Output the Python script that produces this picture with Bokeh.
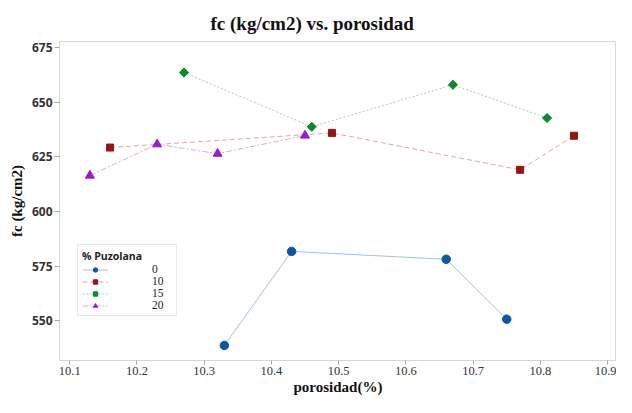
import math
from bokeh.plotting import figure
from bokeh.models import Range1d, Legend, LegendItem, FixedTicker
from bokeh.embed import file_html
from bokeh.resources import INLINE

# ---- data ----
x_0 = [10.33, 10.43, 10.66, 10.75]
y_0 = [538.8, 581.8, 578.2, 550.8]
x_10 = [10.16, 10.49, 10.77, 10.85]
y_10 = [629.3, 636.0, 619.1, 634.7]
x_15 = [10.27, 10.46, 10.67, 10.81]
y_15 = [663.6, 638.8, 658.0, 642.8]
x_20 = [10.13, 10.23, 10.32, 10.45]
y_20 = [616.5, 630.8, 626.5, 634.8]
x_ticks = [10.1, 10.2, 10.3, 10.4, 10.5, 10.6, 10.7, 10.8, 10.9]
y_ticks = [550, 575, 600, 625, 650, 675]
series_labels = ["0", "10", "15", "20"]

p = figure(width=616, height=397, output_backend="svg", toolbar_location=None,
           x_range=Range1d(10.0848, 10.9133), y_range=Range1d(531.9, 677.8),
           title="fc (kg/cm2) vs. porosidad",
           min_border_left=59, min_border_right=0, min_border_top=41, min_border_bottom=36)

p.background_fill_color = "white"
p.border_fill_color = "white"
p.outline_line_color = "#dadada"
p.outline_line_width = 1
p.xgrid.visible = False
p.ygrid.visible = False

p.title.text_font = "Liberation Serif"
p.title.text_font_size = "19px"
p.title.text_font_style = "bold"
p.title.text_color = "#111111"
p.title.align = "left"
p.title.offset = 151
p.title.standoff = 16

# axes
p.xaxis.ticker = FixedTicker(ticks=x_ticks)
p.yaxis.ticker = FixedTicker(ticks=y_ticks)
p.xaxis.minor_tick_line_color = None
p.yaxis.minor_tick_line_color = None
for ax in (p.xaxis[0], p.yaxis[0]):
    ax.axis_line_color = "#d6d6d6"
    ax.major_tick_line_color = "#a8a8a8"
    ax.major_tick_in = 0
    ax.major_tick_out = 5
    ax.axis_label_text_font = "Liberation Serif"
    ax.axis_label_text_font_style = "bold"
    ax.axis_label_text_font_size = "15px"
    ax.axis_label_text_color = "#111111"

p.xaxis.major_tick_out = 4
p.xaxis.axis_label = "porosidad(%)"
p.yaxis.axis_label = "fc (kg/cm2)"
p.xaxis.major_label_text_font = "Liberation Serif"
p.xaxis.major_label_text_font_size = "12.5px"
p.xaxis.major_label_text_color = "#333333"
p.xaxis.major_label_standoff = 2
p.xaxis.axis_label_standoff = 1
p.yaxis.major_label_text_font = "Open Sans"
p.yaxis.major_label_text_font_style = "bold"
p.yaxis.major_label_text_font_size = "12px"
p.yaxis.major_label_text_color = "#333333"
p.yaxis.major_label_standoff = 2
p.yaxis.axis_label_standoff = 4

# series
l0 = p.line(x_0, y_0, line_color="#a9bfe0", line_width=1)
m0 = p.scatter(x_0, y_0, marker="circle", size=8.5, fill_color="#0b57a4", line_color="#0b57a4")
l1 = p.line(x_10, y_10, line_color="#dca8a8", line_width=1, line_dash="5 3")
m1 = p.scatter(x_10, y_10, marker="square", size=7, fill_color="#921616", line_color="#921616")
l2 = p.line(x_15, y_15, line_color="#a3d3a3", line_width=1, line_dash="2 2")
m2 = p.scatter(x_15, y_15, marker="square", size=6.5, angle=math.pi / 4,
               fill_color="#0a8a2c", line_color="#0a8a2c")
l3 = p.line(x_20, y_20, line_color="#d9abea", line_width=1, line_dash="6 2 2 2")
m3 = p.scatter(x_20, y_20, marker="triangle", size=9, fill_color="#9a1bc8", line_color="#9a1bc8")

legend = Legend(items=[
    LegendItem(label=series_labels[0], renderers=[l0, m0]),
    LegendItem(label=series_labels[1], renderers=[l1, m1]),
    LegendItem(label=series_labels[2], renderers=[l2, m2]),
    LegendItem(label=series_labels[3], renderers=[l3, m3]),
], location=(18, 44))
legend.title = "% Puzolana"
legend.title_text_font = "Open Sans"
legend.title_text_font_style = "bold"
legend.title_text_font_size = "10.5px"
legend.title_text_color = "#222222"
legend.title_standoff = 0
legend.label_text_font = "Liberation Serif"
legend.label_text_font_size = "11.5px"
legend.label_text_color = "#222222"
legend.label_height = 11
legend.glyph_height = 11
legend.glyph_width = 26
legend.label_standoff = 44
legend.spacing = 0
legend.padding = 4
legend.margin = 0
legend.border_line_color = "#d6d6d6"
legend.background_fill_color = "white"
p.add_layout(legend, "center")

html = file_html(p, INLINE)
open("out.html", "w").write(html)
